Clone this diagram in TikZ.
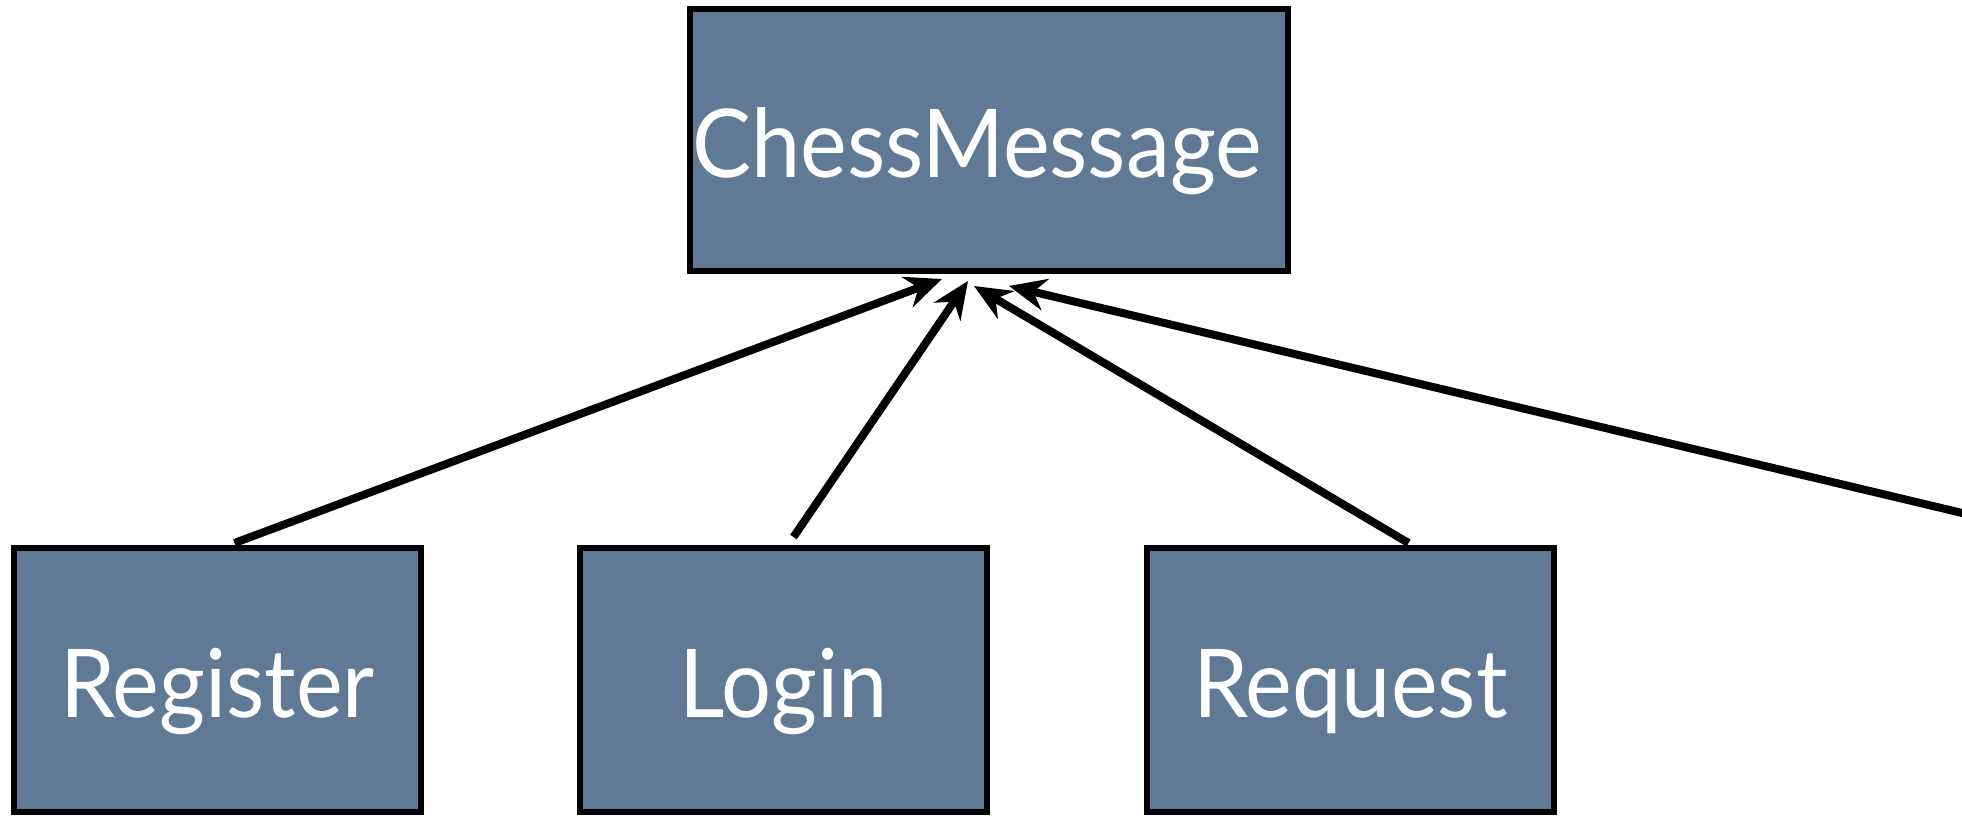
\documentclass[tikz,border=0pt]{standalone}
\usepackage{fontspec}
\setmainfont[FakeStretch=0.93]{Lato}
\usetikzlibrary{arrows.meta,calc}
\definecolor{boxfill}{RGB}{96,122,150}
\tikzset{
  cls/.style={draw=black, line width=6pt, fill=boxfill, text=white, inner sep=0pt,
    minimum width=407pt, text height=75pt, text depth=0pt,
    font=\fontsize{95}{110}\selectfont},
  inh/.style={line width=8pt, -{Stealth[length=37pt,width=32pt,inset=12pt]}}
}
\begin{document}
\begin{tikzpicture}[x=1pt,y=-1pt]
\useasboundingbox (0,0) rectangle (1962,816);
\clip (0,0) rectangle (1962,816);
\fill[white] (0,0) rectangle (1962,816);
\node[cls, minimum width=598pt, minimum height=262pt] (cm) at (989,140) {ChessMessage\hspace*{24pt}};
\node[cls, minimum height=264pt] (reg) at (217.5,680) {Register};
\node[cls, minimum height=264pt] (log) at (783.5,680) {Login};
\node[cls, minimum height=264pt] (req) at (1350.5,680) {Request};
\coordinate (off) at (2000,522);
\draw[inh] ($(reg.north)+(17,-2)$) -- ($(cm.south)+(-47,5)$);
\draw[inh] ($(log.north)+(10,-8)$) -- ($(cm.south)+(-21,7)$);
\draw[inh] ($(req.north)+(58,-2)$) -- ($(cm.south)+(-15,12)$);
\draw[inh] (off) -- ($(cm.south)+(20,12)$);
\end{tikzpicture}
\end{document}
